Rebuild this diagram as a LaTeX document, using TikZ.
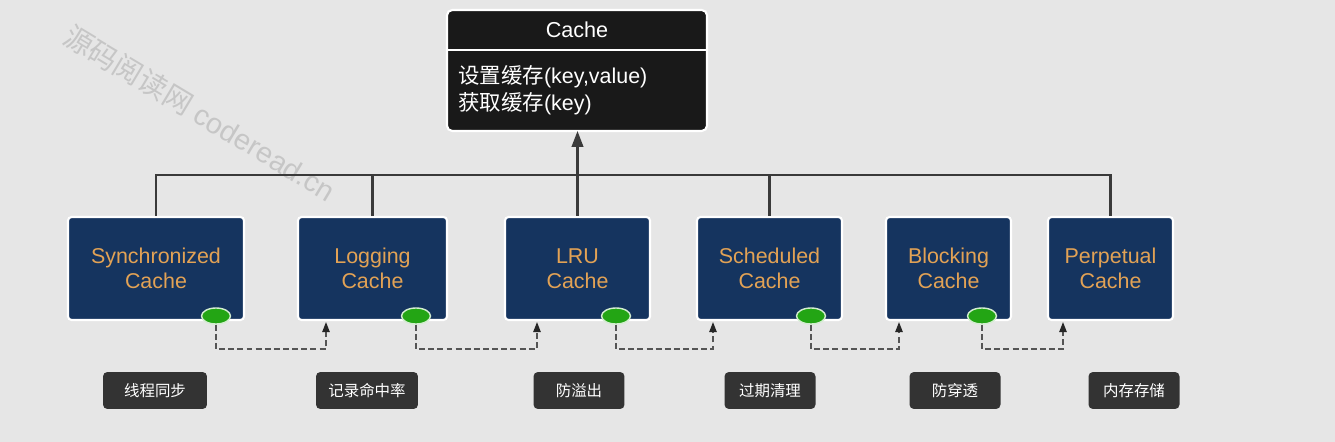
\documentclass[tikz,border=0pt]{standalone}
\usepackage{fontspec}
\setmainfont{Liberation Sans}
\newfontfamily\cjk{Noto Sans CJK SC}
\usetikzlibrary{arrows.meta,shapes.geometric}

\definecolor{pagebg}{HTML}{E6E6E6}
\definecolor{navy}{HTML}{15345F}
\definecolor{amber}{HTML}{E2A255}
\definecolor{tagfill}{HTML}{333333}
\definecolor{dotgreen}{HTML}{23A514}
\definecolor{linegray}{HTML}{3A3A3A}
\definecolor{dashgray}{HTML}{555555}
\definecolor{markgray}{HTML}{C6C6C6}

\tikzset{
  impl/.style={draw=white, line width=1.2pt, fill=navy, rounded corners=2pt,
    text=amber, align=center, minimum height=2.06cm, inner sep=0pt,
    font=\fontsize{12.2pt}{14.2pt}\selectfont},
  hitdot/.style={ellipse, draw=white!80!dotgreen, line width=0.8pt, fill=dotgreen,
    minimum width=0.58cm, minimum height=0.32cm, inner sep=0pt},
  roletag/.style={fill=tagfill, rounded corners=2.5pt, text=white,
    minimum height=0.74cm, minimum width=1.82cm, inner sep=0pt,
    font=\cjk\fontsize{8.8pt}{10pt}\selectfont},
  bus/.style={draw=linegray, line width=1.3pt},
  dashlink/.style={draw=dashgray, line width=0.95pt, dash pattern=on 3.4pt off 1.8pt,
    -{Triangle[length=5.8pt,width=4.2pt,color=black!85]}},
  watermark/.style={text=markgray, rotate=-31, font=\fontsize{16.4pt}{18pt}\selectfont}
}

\begin{document}
\begin{tikzpicture}[x=0.02cm, y=-0.02cm]

\fill[pagebg] (0,0) rectangle (1335,442);
\useasboundingbox (0,0) rectangle (1335,442);

% ---------------------------
% 水印
% ---------------------------
\node[watermark] (wm) at (200,113) {{\cjk 源码阅读网} coderead.cn};

% ---------------------------
% Cache 接口
% ---------------------------
\coordinate (cacheNW) at (447,10);
\coordinate (cacheSE) at (707,131);
\filldraw[fill=black!90, draw=white, line width=1.2pt, rounded corners=3pt] (cacheNW) rectangle (cacheSE);
\draw[white, line width=1.2pt] (447,50) -- (707,50);

\node[text=white, font=\fontsize{12.3pt}{14pt}\selectfont] (cachehead) at (577,30) {Cache};
\node[text=white, anchor=west, align=left, inner sep=0pt,
      font=\fontsize{12.2pt}{15.3pt}\selectfont] (cachebody) at (458,90.5)
  {{\cjk 设置缓存}(key,value)\\{\cjk 获取缓存}(key)};

% ---------------------------
% 装饰器实现
% ---------------------------
\node[impl, minimum width=3.52cm] (sync)    at (156,268.5)  {Synchronized\\Cache};
\node[impl, minimum width=2.98cm] (logging) at (372.5,268.5) {Logging\\Cache};
\node[impl, minimum width=2.9cm]  (lru)     at (577.5,268.5) {LRU\\Cache};
\node[impl, minimum width=2.9cm]  (sched)   at (769.5,268.5) {Scheduled\\Cache};
\node[impl, minimum width=2.5cm]  (block)   at (948.5,268.5) {Blocking\\Cache};
\node[impl, minimum width=2.5cm]  (perp)    at (1110.5,268.5) {Perpetual\\Cache};

\node[hitdot] (syncdot)  at (216,316) {};
\node[hitdot] (logdot)   at (416,316) {};
\node[hitdot] (lrudot)   at (616,316) {};
\node[hitdot] (scheddot) at (811,316) {};
\node[hitdot] (blockdot) at (982,316) {};

% 继承线
\coordinate (busrow) at (0,175);
\draw[bus] (sync.north) -- (sync.north |- busrow) -- (perp.north |- busrow) -- (perp.north);
\foreach \n in {logging,sched}
  \draw[bus] (\n.north) -- (\n.north |- busrow);
\draw[bus, -{Triangle[length=9pt,width=6.5pt]}] (lru.north) -- (lru.north |- cacheSE);

% 委托链（虚线）
\coordinate (dashrow) at (0,349);
\coordinate (login)   at (326,322);
\coordinate (lruin)   at (537,322);
\coordinate (schedin) at (713,322);
\coordinate (blockin) at (899,322);
\coordinate (perpin)  at (1063,322);
\foreach \a/\b in {syncdot/login, logdot/lruin, lrudot/schedin, scheddot/blockin, blockdot/perpin}
  \draw[dashlink] (\a.south) -- (\a.south |- dashrow) -| (\b);

% ---------------------------
% 功能标签
% ---------------------------
\node[roletag, minimum width=2.08cm] (synctag)  at (155,390.5)  {线程同步};
\node[roletag, minimum width=2.04cm] (logtag)   at (367,390.5)  {记录命中率};
\node[roletag]                       (lrutag)   at (579,390.5)  {防溢出};
\node[roletag]                       (schedtag) at (770,390.5)  {过期清理};
\node[roletag]                       (blocktag) at (955,390.5)  {防穿透};
\node[roletag]                       (perptag)  at (1134,390.5) {内存存储};

\end{tikzpicture}
\end{document}
